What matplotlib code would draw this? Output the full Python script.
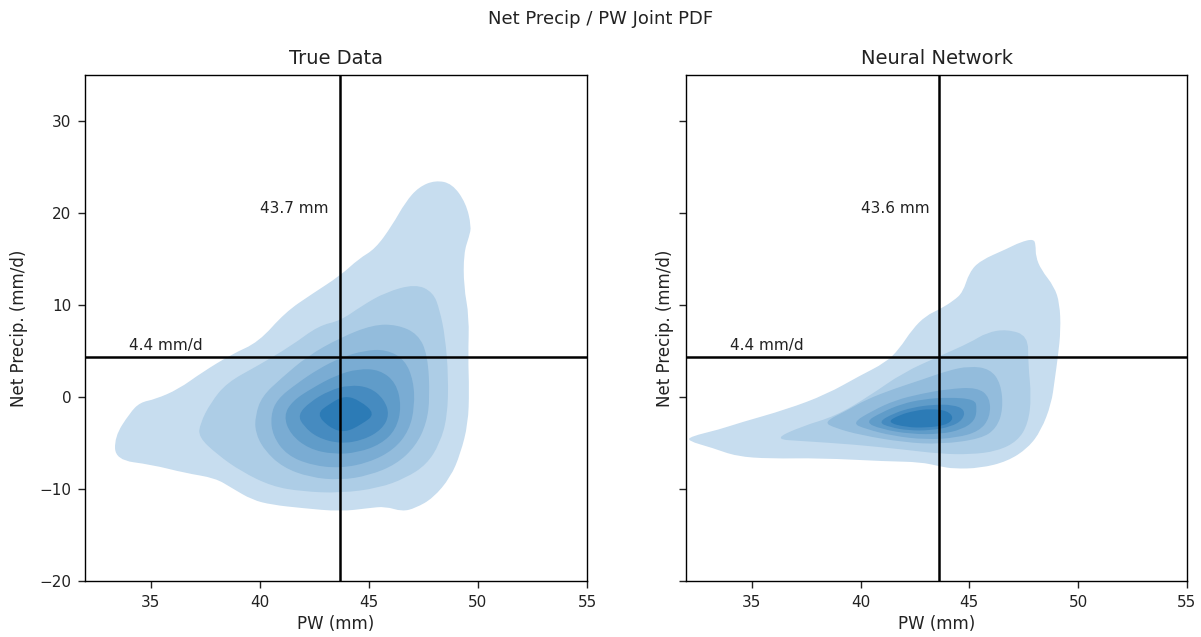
import numpy as np
import matplotlib
matplotlib.use("Agg")
import matplotlib.pyplot as plt
from matplotlib.path import Path
from matplotlib.patches import PathPatch

# ---- Joint PDF density bands (outermost first), vertices as (PW mm, net precip mm/d) ----
true_band1 = [(48.05, 23.6), (48.82, 23.23), (49.45, 21.13), (49.7, 18.59), (49.6, 17.5),
              (49.35, 15.68), (49.35, 12.05), (49.6, 8.78), (49.55, 4.41), (49.6, 0.78),
              (49.55, -2.86), (49.2, -6.13), (48.75, -8.67), (47.95, -10.95), (47.14, -12.04),
              (46.53, -12.41), (45.76, -11.86), (45.0, -12.04), (43.70, -12.41), (41.94, -12.04),
              (40.56, -11.68), (39.65, -11.14), (38.73, -9.86), (37.96, -8.77), (36.59, -8.23),
              (35.06, -7.32), (33.4, -6.8), (33.35, -4.31), (34.05, -1.7), (34.52, -0.55),
              (35.21, -0.21), (36.28, 0.88), (37.35, 2.70), (38.73, 4.70), (39.95, 6.0),
              (41.17, 9.24), (42.40, 11.24), (43.70, 13.24), (44.54, 15.06), (45.30, 16.15),
              (46.07, 18.69), (46.68, 21.23), (47.29, 22.87)]
true_band2 = [(47.14, 12.33), (47.95, 11.42), (48.25, 9.50), (48.5, 6.59), (48.65, 2.23),
              (48.6, -2.13), (48.25, -5.04), (47.65, -7.3), (46.7, -8.77), (45.46, -9.86),
              (43.70, -10.41), (41.94, -10.23), (40.56, -9.68), (39.15, -8.05), (38.05, -6.2),
              (37.2, -4.31), (37.27, -2.86), (37.75, -0.6), (38.5, 1.6), (39.9, 3.42),
              (41.45, 5.6), (42.70, 7.79), (43.70, 8.33), (44.69, 9.96), (45.76, 11.42)]
true_band3 = [(39.8, -2.0), (40.1, 0.1), (41.0, 2.1), (42.2, 4.5), (43.7, 6.5), (45.2, 7.9),
              (46.3, 7.9), (47.25, 6.9), (47.7, 4.6), (47.8, 0.0), (47.65, -2.8), (47.15, -5.3),
              (46.25, -7.3), (45.0, -8.5), (43.7, -9.0), (42.3, -8.7), (41.05, -7.6), (40.2, -5.7),
              (39.8, -3.8)]
true_band4 = [(40.5, -2.0), (40.8, -0.2), (41.7, 1.5), (42.7, 3.1), (43.7, 4.3), (44.8, 5.1),
              (45.8, 5.2), (46.65, 4.1), (47.05, 1.8), (47.1, -1.0), (46.85, -3.6), (46.15, -5.7),
              (45.0, -7.1), (43.7, -7.7), (42.4, -7.4), (41.25, -6.3), (40.6, -4.2)]
true_band5 = [(41.1, -2.0), (41.5, -0.4), (42.4, 1.0), (43.5, 2.4), (44.5, 3.1), (45.5, 3.0),
              (46.25, 1.6), (46.5, -1.0), (46.25, -3.5), (45.55, -5.1), (44.5, -6.0), (43.4, -6.2),
              (42.25, -5.6), (41.4, -4.0)]
true_band6 = [(41.75, -1.9), (42.3, -0.5), (43.2, 0.75), (44.1, 1.35), (45.05, 1.1), (45.7, -0.2),
              (45.95, -1.9), (45.6, -3.5), (44.75, -4.65), (43.7, -5.05), (42.65, -4.4), (42.0, -3.1)]
true_band7 = [(42.6, -1.8), (43.2, -0.7), (43.9, 0.2), (44.6, -0.35), (45.3, -1.8),
              (44.7, -2.9), (43.9, -3.85), (43.2, -3.3)]

nn_band1 = [(47.95, 17.23), (48.05, 16.58), (48.05, 15.31), (48.3, 13.86), (48.9, 12.04),
            (49.15, 10.22), (49.2, 7.31), (49.07, 4.41), (48.92, 1.86), (48.77, -0.68),
            (48.3, -3.59), (47.7, -5.5), (46.75, -6.96), (45.50, -7.7), (44.27, -7.76),
            (43.66, -7.51), (42.74, -7.03), (41.20, -6.96), (38.13, -6.60), (35.83, -6.67),
            (34.30, -6.42), (33.2, -5.5), (32.05, -4.72), (32.2, -4.25), (33.5, -3.5),
            (34.45, -2.76), (36.60, -1.31), (38.44, 0.33), (39.95, 2.33), (41.15, 3.78),
            (41.77, 5.23), (42.38, 7.41), (43.0, 8.87), (43.66, 9.60), (44.27, 10.50),
            (44.7, 11.41), (45.0, 13.60), (45.50, 14.87), (46.72, 16.14), (47.34, 16.87)]
nn_band2 = [(46.72, 7.41), (47.7, 6.69), (47.7, 3.68), (47.85, 0.04), (47.7, -2.86),
            (47.22, -4.75), (46.28, -5.85), (45.04, -6.21), (43.66, -6.14), (41.97, -5.67),
            (39.67, -5.12), (37.37, -4.76), (36.0, -4.55), (37.3, -3.15), (38.85, -2.04),
            (40.4, 0.14), (41.95, 2.69), (43.66, 4.51), (45.04, 5.96), (45.80, 7.05)]
nn_band3 = [(38.3, -2.7), (39.35, -1.45), (40.25, -0.25), (41.5, 0.9), (42.8, 1.9), (44.0, 2.9),
            (45.0, 3.4), (45.95, 3.1), (46.45, 1.5), (46.55, -1.3), (46.25, -3.35), (45.55, -4.5),
            (43.7, -5.1), (42.0, -4.9), (40.0, -4.1), (38.85, -3.35)]
nn_band4 = [(39.6, -2.8), (40.55, -1.45), (41.6, -0.3), (42.8, 0.4), (44.0, 0.9), (45.35, 1.1),
            (45.95, 0.0), (45.95, -2.2), (45.45, -3.7), (44.4, -4.4), (43.0, -4.6), (41.5, -4.2),
            (40.25, -3.45)]
nn_band5 = [(40.2, -2.7), (40.95, -1.65), (41.9, -0.7), (42.9, -0.2), (44.0, 0.0), (45.25, -0.2),
            (45.35, -1.2), (45.25, -2.55), (44.65, -3.5), (43.7, -4.0), (42.3, -4.0), (40.95, -3.45)]
nn_band6 = [(40.8, -2.7), (41.55, -1.7), (42.4, -1.1), (43.3, -0.8), (44.25, -0.8), (44.8, -1.35),
            (44.7, -2.45), (44.15, -3.2), (43.2, -3.6), (42.2, -3.6), (41.35, -3.25)]
nn_band7 = [(41.2, -2.7), (41.8, -1.9), (42.5, -1.45), (43.2, -1.25), (44.0, -1.45), (44.3, -2.3),
            (43.9, -3.05), (43.0, -3.3), (42.1, -3.25)]

# reference lines
true_pw_mean = 43.7
nn_pw_mean = 43.6
precip_mean = 4.4

panel_titles = ["True Data", "Neural Network"]
x_ticks = [35, 40, 45, 50, 55]
y_ticks = [-20, -10, 0, 10, 20, 30]

true_bands = [true_band1, true_band2, true_band3, true_band4, true_band5, true_band6, true_band7]
nn_bands = [nn_band1, nn_band2, nn_band3, nn_band4, nn_band5, nn_band6, nn_band7]

# shaded-KDE style blue ramp, lightest band to densest core
c_lo = np.array([199, 221, 239]) / 255
c_hi = np.array([44, 123, 182]) / 255
n = len(true_bands)
band_colors = [tuple(c_lo + (c_hi - c_lo) * (i / (n - 1))) for i in range(n)]


def smooth_outline(verts):
    """Closed quadratic B-spline path using the band vertices as control points."""
    v = np.asarray(verts, dtype=float)
    mids = (v + np.roll(v, -1, axis=0)) / 2.0
    pts = [mids[-1]]
    codes = [Path.MOVETO]
    for i in range(len(v)):
        pts.extend([v[i], mids[i]])
        codes.extend([Path.CURVE3, Path.CURVE3])
    pts.append(mids[-1])
    codes.append(Path.CLOSEPOLY)
    return Path(pts, codes)


fig = plt.figure(figsize=(12.01, 6.37), dpi=100)
ax1 = fig.add_axes([0.0708, 0.0874, 0.418, 0.7943])
ax2 = fig.add_axes([0.5716, 0.0874, 0.4167, 0.7943], sharey=ax1)

for ax, bands, pw_mean, title in [(ax1, true_bands, true_pw_mean, panel_titles[0]),
                                  (ax2, nn_bands, nn_pw_mean, panel_titles[1])]:
    for verts, col in zip(bands, band_colors):
        ax.add_patch(PathPatch(smooth_outline(verts), facecolor=col, edgecolor="none", zorder=1))
    ax.axvline(pw_mean, color="k", lw=1.8, zorder=3)
    ax.axhline(precip_mean, color="k", lw=1.8, zorder=3)
    ax.text(40, 20, f"{pw_mean:.1f} mm", fontsize=11, color="#222222")
    ax.text(34, 5.1, f"{precip_mean:.1f} mm/d", fontsize=11, color="#222222")
    ax.set_xlim(32, 55)
    ax.set_ylim(-20, 35)
    ax.set_xticks(x_ticks)
    ax.set_yticks(y_ticks)
    ax.set_xlabel("PW (mm)", fontsize=12, color="#222222")
    ax.set_title(title, fontsize=14, color="#222222", pad=8)
    ax.tick_params(labelsize=11, length=4.7, width=1.0, pad=5.0, colors="#222222")
    for sp in ax.spines.values():
        sp.set_linewidth(1.0)

ax1.set_ylabel("Net Precip. (mm/d)", fontsize=12, color="#222222", labelpad=8)
ax2.set_ylabel("Net Precip. (mm/d)", fontsize=12, color="#222222", labelpad=4)
plt.setp(ax2.get_yticklabels(), visible=False)
fig.suptitle("Net Precip / PW Joint PDF", fontsize=13, y=0.985, color="#222222")

fig.savefig("out.png", dpi=100)
